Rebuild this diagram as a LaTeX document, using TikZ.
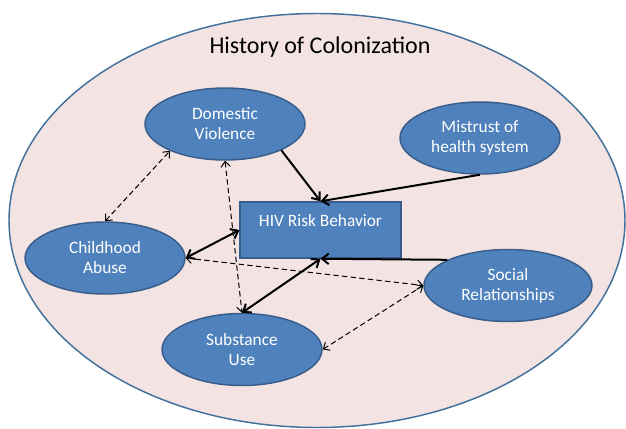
\documentclass[tikz,border=0pt]{standalone}
\usepackage{fontspec}
\setmainfont{Carlito}
\usepackage{xcolor}
\usetikzlibrary{arrows.meta,shapes.geometric}
\definecolor{factorblue}{HTML}{4F81BD}
\definecolor{factorline}{HTML}{385D8A}
\definecolor{historypink}{HTML}{F3E3E3}
\definecolor{historyline}{HTML}{41719C}

\begin{document}
\begin{tikzpicture}[x=0.75pt,y=-0.75pt,
	factor/.style={ellipse,draw=factorline,fill=factorblue,line width=1.1pt,text=white,
		align=center,inner sep=0pt,minimum width=120pt,minimum height=54pt,font=\fontsize{13}{15}\selectfont},
	riskbox/.style={rectangle,draw=factorline,fill=factorblue,line width=1.1pt,text=white,
		align=center,inner sep=0pt,minimum width=120.5pt,minimum height=42pt,font=\fontsize{13}{15}\selectfont},
	effect/.style={line width=1.5pt,-{Straight Barb[length=5pt,width=8pt]}},
	twoway/.style={line width=1.5pt,{Straight Barb[length=5pt,width=8pt]}-{Straight Barb[length=5pt,width=8pt]}},
	link/.style={line width=0.75pt,dash pattern=on 4pt off 2.5pt,{Straight Barb[length=4pt,width=7pt]}-{Straight Barb[length=4pt,width=7pt]}}]
	\useasboundingbox (0,0) rectangle (626,429);
	% context
	\node[ellipse,draw=historyline,fill=historypink,line width=1.1pt,minimum width=462pt,minimum height=310.5pt,inner sep=0pt] (history) at (317,220.5) {};
	\node[font=\fontsize{18}{21}\selectfont] (title) at (320,47) {History of Colonization};
	% factors
	\node[factor] (dv) at (225,124) {Domestic\\Violence};
	\node[factor] (mistrust) at (480,138) {Mistrust of\\health system};
	\node[factor] (abuse) at (105,258) {Childhood\\Abuse};
	\node[factor,minimum width=126pt] (social) at (508,285.5) {Social\\Relationships};
	\node[factor] (substance) at (242,349.5) {Substance\\Use};
	\node[riskbox] (hiv) at (320.5,230) {HIV Risk Behavior\\\mbox{}};
	% solid paths
	\draw[effect] (dv.-25) -- (hiv.north);
	\draw[effect] (mistrust.south) -- (hiv.north);
	\draw[effect] (social.157) -- (hiv.south);
	\draw[twoway] (abuse.east) -- (hiv.west);
	\draw[twoway] (substance.north) -- (hiv.south);
	% dashed associations
	\draw[link] (abuse.north) -- (dv.206);
	\draw[link] (dv.south) -- (substance.north);
	\draw[link] (abuse.east) -- (social.west);
	\draw[link] (substance.east) -- (social.west);
\end{tikzpicture}
\end{document}
